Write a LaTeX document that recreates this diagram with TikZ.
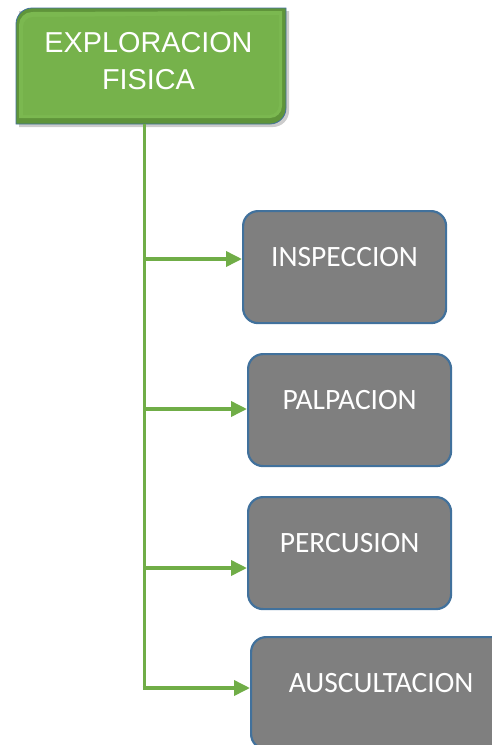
\documentclass[tikz,border=0pt]{standalone}
\usepackage{fontspec}
\setmainfont{Liberation Sans}
\newfontfamily\boxfont{Carlito}
\usetikzlibrary{arrows.meta,backgrounds,calc}

\definecolor{exam_green}{HTML}{76B24B}
\definecolor{exam_darkgreen}{HTML}{5F943A}
\definecolor{exam_lightgreen}{HTML}{7BB850}
\definecolor{exam_gray}{HTML}{7F7F7F}
\definecolor{exam_blue}{HTML}{41719C}
\definecolor{exam_line}{HTML}{70AD47}

\tikzset{
  stepbox/.style={draw=exam_blue, line width=2.2pt, fill=exam_gray, rounded corners=15pt,
    inner sep=0pt, minimum width=203pt, text height=55pt, text depth=57pt,
    text=white, font=\boxfont\fontsize{29.5}{35}\selectfont},
  branch/.style={exam_line, line width=3.6pt, -{Triangle[length=16pt,width=15pt]}},
  trunk/.style={exam_line, line width=3.6pt}
}

\begin{document}
\begin{tikzpicture}[x=1pt, y=1pt]
   \useasboundingbox (0,0) rectangle (492,-745);
   \clip (0,0) rectangle (492,-745);
   % top box corners
   \coordinate (rootnw) at (16,-8);
   \coordinate (rootse) at (286,-124);
   \node [inner sep=0pt, align=center, text=white, font=\fontsize{28.8}{36.5}\selectfont] (root) at (148.5,-61) {EXPLORACION\\FISICA};
   % bevelled frame of the top box, behind the text
   \begin{scope}[on background layer]
      \fill [black, opacity=0.2] ($(rootnw)+(3,-3)$) -- ($(rootnw|-rootse)+(3,-3)$) -- ($(rootse)+(-13,-3)$) arc (-90:0:16) -- ($(rootse|-rootnw)+(3,-3)$) -- cycle;
      \draw [fill=exam_darkgreen, draw=exam_blue, line width=0.8pt] (rootnw|-rootse) -- ($(rootnw)+(0,-16)$) arc (180:90:16) -- (rootse|-rootnw) -- ($(rootse)+(0,16)$) arc (0:-90:16) -- cycle;
      \fill [exam_lightgreen] ($(rootnw|-rootse)+(3,6)$) -- ($(rootnw)+(3,-17)$) arc (180:90:13) -- ($(rootse|-rootnw)+(-4,-3)$) -- ($(rootse)+(-4,18)$) arc (0:-90:12) -- cycle;
      \fill [exam_green] ($(rootnw|-rootse)+(7,9)$) -- ($(rootnw)+(7,-19)$) arc (180:90:10) -- ($(rootse|-rootnw)+(-7,-7)$) -- ($(rootse)+(-7,19)$) arc (0:-90:10) -- cycle;
   \end{scope}
   % the four boxes
   \node [stepbox, anchor=north west] (inspeccion) at (242,-210) {INSPECCION};
   \node [stepbox, anchor=north west] (palpacion) at (247,-353) {PALPACION};
   \node [stepbox, anchor=north west] (percusion) at (247,-496) {PERCUSION};
   \node [stepbox, anchor=north west, minimum width=260pt] (auscultacion) at (250,-636) {AUSCULTACION};
   % joints on the vertical line
   \coordinate (j1) at (144.5,-259);
   \coordinate (j2) at (144.5,-409);
   \coordinate (j3) at (144.5,-568);
   \coordinate (j4) at (144.5,-688);
   \draw [trunk] (j4|-rootse) -- ([yshift=-1.8pt]j4);
   \draw [branch] (j1) -- (j1-|inspeccion.west);
   \draw [branch] (j2) -- (j2-|palpacion.west);
   \draw [branch] (j3) -- (j3-|percusion.west);
   \draw [branch] ([xshift=-1.8pt]j4) -- (j4-|auscultacion.west);
\end{tikzpicture}
\end{document}
